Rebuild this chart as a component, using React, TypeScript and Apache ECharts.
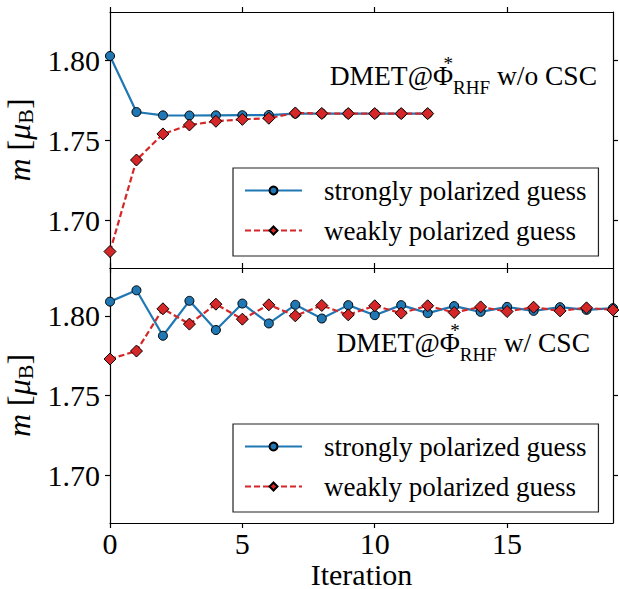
import React, { useEffect, useRef } from 'react';
import * as echarts from 'echarts';

const iterTop = [0, 1, 2, 3, 4, 5, 6, 7, 8, 9, 10, 11, 12];
const topStrong = [1.8025, 1.7675, 1.7654, 1.7653, 1.7654, 1.7655, 1.7656, 1.7665, 1.7665, 1.7665, 1.7665, 1.7665, 1.7665];
const topWeak = [1.6803, 1.7375, 1.7538, 1.7594, 1.7617, 1.7629, 1.7636, 1.7669, 1.7666, 1.7665, 1.7665, 1.7665, 1.7665];

const iterBottom = [0, 1, 2, 3, 4, 5, 6, 7, 8, 9, 10, 11, 12, 13, 14, 15, 16, 17, 18, 19];
const bottomStrong = [1.8089, 1.816, 1.7875, 1.8094, 1.7911, 1.8077, 1.7952, 1.8069, 1.7983, 1.8067, 1.8004, 1.8067, 1.8017, 1.8061, 1.8025, 1.8056, 1.8031, 1.8054, 1.8037, 1.8048];
const bottomWeak = [1.7729, 1.7779, 1.8044, 1.7948, 1.8073, 1.7979, 1.8069, 1.8, 1.8065, 1.8006, 1.8063, 1.8017, 1.8063, 1.8021, 1.8056, 1.8027, 1.8054, 1.8031, 1.805, 1.8037];

const xTicks = [0, 5, 10, 15];
const yTicks = [1.7, 1.75, 1.8];
const xLimits = [0, 19];
const yLimits = [1.67, 1.83];
const seriesNames = ['strongly polarized guess', 'weakly polarized guess'];
const panelLabels = ['w/o CSC', 'w/ CSC'];

const FONT = '"Liberation Serif", "DejaVu Serif", "Times New Roman", serif';
const BLUE = '#1f77b4';
const RED = '#d62728';

const zip = (xs: number[], ys: number[]) => xs.map((x, i) => [x, ys[i]]);

function xAxis(gridIndex: number, position: 'top' | 'bottom', showLabels: boolean, name?: string) {
  return {
    type: 'value',
    gridIndex,
    position,
    min: xLimits[0],
    max: xLimits[1],
    name: name || '',
    nameLocation: 'middle',
    nameGap: 28,
    nameTextStyle: { fontFamily: FONT, fontSize: 30, lineHeight: 32, color: '#000' },
    axisLine: { show: true, onZero: false, lineStyle: { color: '#000', width: 1.2 } },
    axisTick: { show: true, inside: false, length: 5, customValues: xTicks, lineStyle: { color: '#000', width: 1.2 } },
    axisLabel: {
      show: showLabels,
      customValues: xTicks,
      fontFamily: FONT,
      fontSize: 30,
      color: '#000',
      margin: 5,
    },
    splitLine: { show: false },
  };
}

function yAxis(gridIndex: number, position: 'left' | 'right', showLabels: boolean) {
  return {
    type: 'value',
    gridIndex,
    position,
    min: yLimits[0],
    max: yLimits[1],
    name: showLabels ? '{i|m}{n| [}{mu|μ}{sub|B}{n|]}' : '',
    nameLocation: 'middle',
    nameRotate: 90,
    nameGap: 64,
    nameTextStyle: {
      fontFamily: FONT,
      fontSize: 32,
      color: '#000',
      rich: {
        i: { fontFamily: FONT, fontSize: 32, fontStyle: 'italic', lineHeight: 36, verticalAlign: 'middle', color: '#000' },
        n: { fontFamily: FONT, fontSize: 32, lineHeight: 36, verticalAlign: 'middle', color: '#000' },
        mu: { fontFamily: FONT, fontSize: 32, fontStyle: 'italic', lineHeight: 36, verticalAlign: 'middle', color: '#000' },
        sub: { fontFamily: FONT, fontSize: 22, lineHeight: 20, verticalAlign: 'bottom', color: '#000' },
      },
    },
    axisLine: { show: true, onZero: false, lineStyle: { color: '#000', width: 1.2 } },
    axisTick: { show: true, inside: false, length: 5, customValues: yTicks, lineStyle: { color: '#000', width: 1.2 } },
    axisLabel: {
      show: showLabels,
      customValues: yTicks,
      formatter: (v: number) => v.toFixed(2),
      fontFamily: FONT,
      fontSize: 30,
      color: '#000',
      margin: 10,
    },
    splitLine: { show: false },
  };
}

function lineSeries(name: string, axisIndex: number, data: number[][], strong: boolean) {
  return {
    type: 'line',
    name,
    xAxisIndex: axisIndex,
    yAxisIndex: axisIndex,
    data,
    clip: false,
    symbol: strong ? 'circle' : 'diamond',
    symbolSize: strong ? 9 : 12,
    showSymbol: true,
    lineStyle: { color: strong ? BLUE : RED, width: 2.2, type: strong ? 'solid' : [6, 3] },
    itemStyle: { color: strong ? BLUE : RED, borderColor: '#000', borderWidth: 1 },
    emphasis: { disabled: true },
    z: strong ? 2 : 3,
  };
}

function legend(top: number) {
  return {
    left: 233,
    top,
    orient: 'vertical',
    data: seriesNames,
    itemWidth: 57,
    itemHeight: 10,
    itemGap: 13,
    padding: [9, 12, 12, 11],
    borderColor: '#222',
    borderWidth: 1.2,
    borderRadius: 0,
    backgroundColor: '#fff',
    selectedMode: false,
    textStyle: { fontFamily: FONT, fontSize: 27, color: '#000', lineHeight: 26, padding: [0, 0, 0, 17] },
  };
}

function annotation(rightX: number, centerY: number, label: string) {
  return {
    type: 'text',
    x: rightX,
    y: centerY,
    z: 100,
    style: {
      text: '{m|DMET@Φ}{sup|*}{sub|RHF}{m| ' + label + '}',
      align: 'right',
      verticalAlign: 'middle',
      fontFamily: FONT,
      fill: '#000',
      rich: {
        m: { fontFamily: FONT, fontSize: 27.5, lineHeight: 43, verticalAlign: 'middle', fill: '#000' },
        sup: { fontFamily: FONT, fontSize: 19, lineHeight: 29, verticalAlign: 'top', width: 0, fill: '#000' },
        sub: { fontFamily: FONT, fontSize: 19, lineHeight: 18, verticalAlign: 'bottom', fill: '#000' },
      },
    },
  };
}

const gridBase = { containLabel: false, outerBoundsMode: 'none' };

const option = {
  animation: false,
  backgroundColor: '#fff',
  grid: [
    { ...gridBase, left: 110, top: 12, width: 503, height: 256 },
    { ...gridBase, left: 110, top: 268, width: 503, height: 255 },
  ],
  xAxis: [
    xAxis(0, 'bottom', false),
    xAxis(0, 'top', false),
    xAxis(1, 'bottom', true, 'Iteration'),
    xAxis(1, 'top', false),
  ],
  yAxis: [
    yAxis(0, 'left', true),
    yAxis(0, 'right', false),
    yAxis(1, 'left', true),
    yAxis(1, 'right', false),
  ],
  legend: [legend(168), legend(424)],
  series: [
    lineSeries(seriesNames[0], 0, zip(iterTop, topStrong), true),
    lineSeries(seriesNames[1], 0, zip(iterTop, topWeak), false),
    lineSeries(seriesNames[0], 2, zip(iterBottom, bottomStrong), true),
    lineSeries(seriesNames[1], 2, zip(iterBottom, bottomWeak), false),
  ],
  graphic: [annotation(597, 75, panelLabels[0]), annotation(590, 342, panelLabels[1])],
};

export default function App() {
  const ref = useRef<HTMLDivElement>(null);
  useEffect(() => {
    document.body.style.margin = '0';
    const chart = echarts.init(ref.current as HTMLDivElement, null, { renderer: 'svg' });
    chart.setOption(option as any);
    return () => chart.dispose();
  }, []);
  return <div ref={ref} style={{ width: 619, height: 589, background: '#fff' }} />;
}
